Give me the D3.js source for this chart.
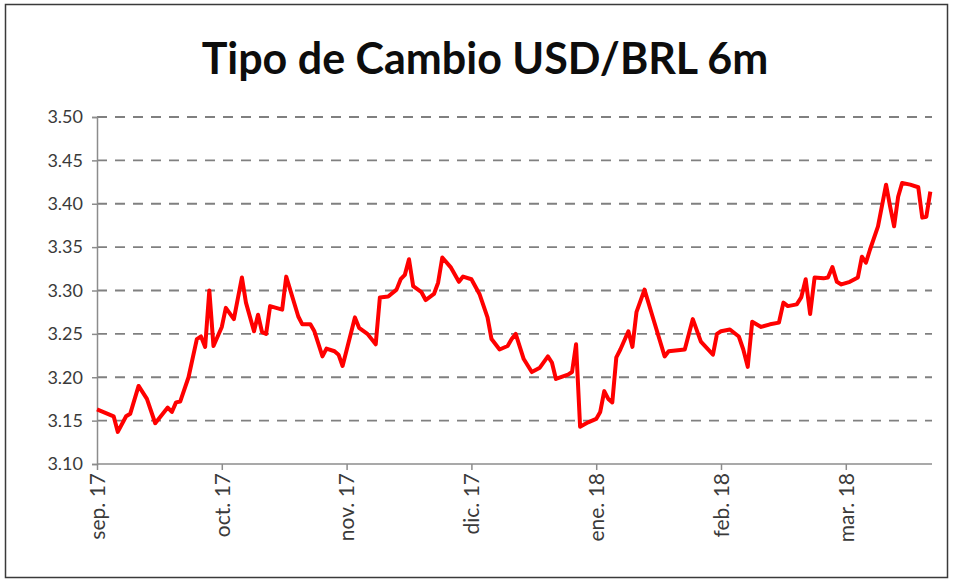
<!DOCTYPE html>
<html>
<head>
<meta charset="utf-8">
<script src="https://cdn.jsdelivr.net/npm/d3@7"></script>
<style>
  body { margin: 0; background: #fff; }
  svg { display: block; font-family: Lato, "Open Sans", sans-serif; }
</style>
</head>
<body>
<svg id="chart" width="953" height="583"></svg>
<script>
const width = 953;
const height = 583;

const title = "Tipo de Cambio USD/BRL 6m";

// fechas (diarias) y valores
const dates = [
  "2017-09-01","2017-09-04","2017-09-05","2017-09-06","2017-09-08","2017-09-09","2017-09-11","2017-09-13",
  "2017-09-15","2017-09-18","2017-09-19","2017-09-20","2017-09-21","2017-09-23","2017-09-25","2017-09-26",
  "2017-09-27","2017-09-28","2017-09-29","2017-10-01","2017-10-02","2017-10-04","2017-10-06","2017-10-07",
  "2017-10-09","2017-10-10","2017-10-11","2017-10-12","2017-10-13","2017-10-16","2017-10-17","2017-10-20",
  "2017-10-21","2017-10-23","2017-10-24","2017-10-26","2017-10-27","2017-10-29","2017-10-30","2017-10-31",
  "2017-11-03","2017-11-04","2017-11-06","2017-11-08","2017-11-09","2017-11-11","2017-11-13","2017-11-14",
  "2017-11-15","2017-11-16","2017-11-17","2017-11-19","2017-11-20","2017-11-22","2017-11-23","2017-11-24",
  "2017-11-26","2017-11-28","2017-11-29","2017-12-01","2017-12-03","2017-12-05","2017-12-06","2017-12-08",
  "2017-12-10","2017-12-11","2017-12-12","2017-12-14","2017-12-16","2017-12-18","2017-12-20","2017-12-21",
  "2017-12-22","2017-12-25","2017-12-26","2017-12-27","2017-12-28","2017-12-30","2018-01-01","2018-01-02",
  "2018-01-03","2018-01-04","2018-01-05","2018-01-06","2018-01-07","2018-01-09","2018-01-10","2018-01-11",
  "2018-01-13","2018-01-15","2018-01-18","2018-01-19","2018-01-23","2018-01-25","2018-01-27","2018-01-30",
  "2018-01-31","2018-02-01","2018-02-03","2018-02-05","2018-02-06","2018-02-07","2018-02-08","2018-02-10",
  "2018-02-12","2018-02-14","2018-02-15","2018-02-16","2018-02-18","2018-02-19","2018-02-20","2018-02-21",
  "2018-02-22","2018-02-24","2018-02-25","2018-02-26","2018-02-27","2018-02-28","2018-03-02","2018-03-04",
  "2018-03-05","2018-03-06","2018-03-07","2018-03-09","2018-03-11","2018-03-12","2018-03-13","2018-03-14",
  "2018-03-15","2018-03-17","2018-03-19","2018-03-20","2018-03-21","2018-03-22"
];

const values = [
  3.163,3.157,3.155,3.137,3.155,3.158,3.190,3.175,
  3.147,3.165,3.160,3.171,3.172,3.200,3.244,3.247,
  3.235,3.300,3.236,3.258,3.280,3.267,3.315,3.286,
  3.253,3.272,3.252,3.250,3.282,3.278,3.316,3.270,
  3.261,3.261,3.253,3.224,3.233,3.230,3.226,3.213,
  3.269,3.257,3.250,3.238,3.292,3.293,3.301,3.313,
  3.318,3.336,3.305,3.298,3.289,3.296,3.309,3.338,
  3.327,3.310,3.316,3.313,3.296,3.269,3.244,3.232,
  3.236,3.244,3.250,3.221,3.206,3.211,3.224,3.217,
  3.198,3.203,3.206,3.238,3.143,3.148,3.152,3.160,
  3.184,3.175,3.171,3.223,3.232,3.253,3.235,3.275,
  3.301,3.270,3.224,3.230,3.232,3.267,3.241,3.226,
  3.250,3.253,3.255,3.247,3.232,3.212,3.264,3.258,
  3.261,3.263,3.286,3.282,3.284,3.292,3.313,3.273,
  3.315,3.314,3.315,3.327,3.310,3.307,3.310,3.315,
  3.339,3.332,3.347,3.374,3.422,3.397,3.374,3.408,
  3.424,3.422,3.419,3.384,3.385,3.414
];

const monthStarts = ["2017-09-01","2017-10-01","2017-11-01","2017-12-01","2018-01-01","2018-02-01","2018-03-01","2018-04-01"];
const monthLabels = ["sep. 17","oct. 17","nov. 17","dic. 17","ene. 18","feb. 18","mar. 18"];
const yTicks = [3.10, 3.15, 3.20, 3.25, 3.30, 3.35, 3.40, 3.45, 3.50];

const parse = d3.timeParse("%Y-%m-%d");
const data = dates.map((d, i) => ({ date: parse(d), value: values[i] }));

const plot = { left: 97, top: 117, bottom: 464, right: 932 };
const monthWidth = 124.8; // cada mes ocupa el mismo ancho (eje tipo Excel)

const svg = d3.select("#chart");

// marco exterior
svg.append("rect")
  .attr("x", 5.5).attr("y", 4.5)
  .attr("width", 942).attr("height", 573)
  .attr("fill", "#fff")
  .attr("stroke", "#3a3a3a")
  .attr("stroke-width", 1.5);

const x = d3.scaleTime()
  .domain(monthStarts.map(parse))
  .range(monthStarts.map((d, i) => plot.left + i * monthWidth));

const y = d3.scaleLinear()
  .domain([3.10, 3.50])
  .range([plot.bottom, plot.top]);

// título
svg.append("text")
  .attr("x", 485)
  .attr("y", 74)
  .attr("text-anchor", "middle")
  .attr("font-size", 43)
  .attr("font-weight", "bold")
  .attr("fill", "#0d0d0d")
  .text(title);

// rejilla
svg.append("g")
  .selectAll("line")
  .data(yTicks.slice(1))
  .join("line")
  .attr("x1", plot.left)
  .attr("x2", plot.right)
  .attr("y1", d => y(d))
  .attr("y2", d => y(d))
  .attr("stroke", "#808080")
  .attr("stroke-width", 1.8)
  .attr("stroke-dasharray", "10,8");

// eje y
const yAxis = svg.append("g")
  .attr("transform", `translate(${plot.left},0)`)
  .call(d3.axisLeft(y).tickValues(yTicks).tickFormat(d3.format(".2f")).tickSize(5).tickPadding(9));

// eje x
const xAxis = svg.append("g")
  .attr("transform", `translate(0,${plot.bottom})`)
  .call(d3.axisBottom(x)
    .tickValues(monthStarts.slice(0, 7).map(parse))
    .tickFormat((d, i) => monthLabels[i])
    .tickSize(6)
    .tickSizeOuter(0));

xAxis.select(".domain").attr("d", `M${plot.left},0H${plot.right}`);

[yAxis, xAxis].forEach(ax => {
  ax.select(".domain").attr("stroke", "#8c8c8c").attr("stroke-width", 1.5);
  ax.selectAll(".tick line").attr("stroke", "#8c8c8c").attr("stroke-width", 1.5);
  ax.selectAll("text").attr("fill", "#3a3a3a")
    .attr("font-family", "Lato, 'Open Sans', sans-serif");
});

yAxis.selectAll(".tick text").attr("font-size", 18);

xAxis.selectAll(".tick text")
  .attr("font-size", 21)
  .attr("transform", "rotate(-90)")
  .attr("text-anchor", "end")
  .attr("x", -9)
  .attr("y", 0)
  .attr("dy", "0.35em");

// serie
const line = d3.line()
  .x(d => x(d.date))
  .y(d => y(d.value));

svg.append("path")
  .datum(data)
  .attr("fill", "none")
  .attr("stroke", "#ff0000")
  .attr("stroke-width", 4)
  .attr("stroke-linejoin", "round")
  .attr("d", line);
</script>
</body>
</html>
